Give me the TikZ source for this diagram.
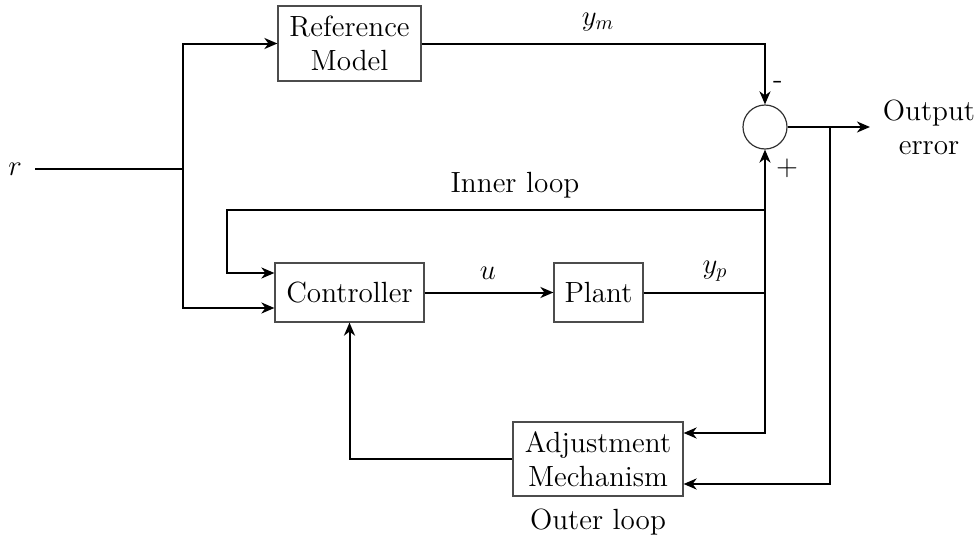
\documentclass[tikz,border=0pt]{standalone}
\usetikzlibrary{arrows.meta}
\begin{document}
\begin{tikzpicture}[x=0.5pt,y=-0.5pt,
  every node/.style={font=\fontsize{14.6}{17}\selectfont},
  block/.style={draw=black!70,line width=0.6pt,fill=white,inner sep=0pt,align=center},
  sig/.style={line width=1pt},
  arr/.style={sig,-{Stealth[length=6.5pt,width=5.5pt,inset=2pt]}},
  lbl/.style={inner sep=0pt}]
\useasboundingbox (0,0) rectangle (980,541);

% blocks
\node[block,minimum width=71.5pt,minimum height=37.5pt] (ref) at (349.5,43.5) {Reference\\Model};
\node[block,minimum width=74.5pt,minimum height=29.5pt] (ctrl) at (349.5,292.5) {Controller};
\node[block,minimum width=44.5pt,minimum height=29.5pt] (plant) at (598.5,292.5) {Plant};
\node[block,minimum width=85pt,minimum height=37pt] (adj) at (598,459) {Adjustment\\Mechanism};
\node[draw=black!80,line width=0.6pt,circle,minimum size=22pt,inner sep=0pt] (sum) at (765,127) {};

% labels
\node[lbl] (r) at (15,169) {$r$};
\node[lbl] (ym) at (598,22) {$y_m$};
\node[lbl] (minus) at (778,85) {-};
\node[lbl] (plus) at (787,168) {$+$};
\node[lbl] (inner) at (515,185) {Inner loop};
\node[lbl] (u) at (488,273) {$u$};
\node[lbl] (yp) at (715,271) {$y_p$};
\node[lbl,align=center] (out) at (929,127) {Output\\error};
\node[lbl] (outer) at (598,522) {Outer loop};

% junction points
\coordinate (rs) at (35,169);
\coordinate (split) at (183,169);
\coordinate (ypj) at (plant.east -| sum.south);
\coordinate (oute) at (870,127);

% reference path
\draw[sig] (rs) -- (split);
\draw[arr] (split) |- (ref.west);
\draw[arr] (split) |- (ctrl.west |- 0,308);
\draw[arr] (ref.east) -| (sum.north);

% forward path
\draw[arr] (ctrl.east) -- (plant.west);
\draw[sig] (plant.east) -- (ypj);
\draw[arr] (765,433) -- (sum.south);

% inner loop
\draw[arr] (765,210) -- (227,210) |- (ctrl.west |- 0,273);

% output error and outer loop
\draw[arr] (sum.east) -- (oute);
\draw[arr] (ypj) |- (adj.east |- 0,433);
\draw[arr] (830,127) |- (adj.east |- 0,484);
\draw[arr] (adj.west) -| (ctrl.south);
\end{tikzpicture}
\end{document}
